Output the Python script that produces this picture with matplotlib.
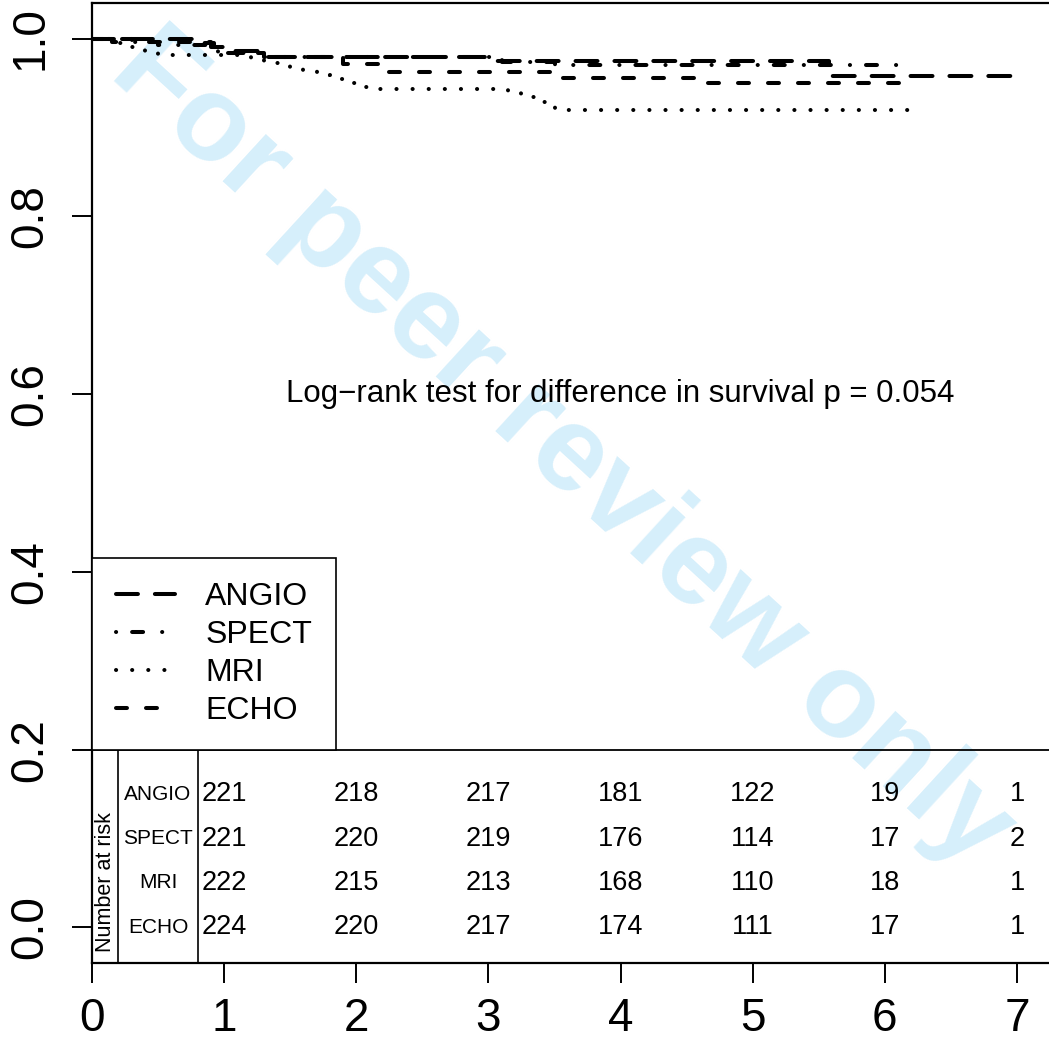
import matplotlib
matplotlib.use("Agg")
import matplotlib.pyplot as plt

plt.rcParams['font.family'] = ['Liberation Sans', 'DejaVu Sans']
plt.rcParams['lines.scale_dashes'] = False

# Kaplan-Meier step curves: event times, survival after each step, last follow-up
angio_t = [0, 0.85, 0.92, 1.0, 1.3, 3.05, 5.58]
angio_s = [1.0, 0.9955, 0.991, 0.986, 0.979, 0.975, 0.958]
angio_end = 7.0

spect_t = [0, 0.15, 0.5, 0.95, 1.3, 3.1, 3.5]
spect_s = [1.0, 0.996, 0.993, 0.984, 0.979, 0.974, 0.970]
spect_end = 6.15

mri_t = [0, 0.15, 0.25, 0.4, 0.5, 1.2, 1.3, 1.5, 1.6, 1.7, 1.8, 1.9, 2.0, 2.1,
         3.15, 3.25, 3.35, 3.45, 3.5]
mri_s = [1.0, 0.9955, 0.991, 0.9865, 0.982, 0.977, 0.973, 0.968, 0.964, 0.959,
         0.955, 0.950, 0.946, 0.943, 0.939, 0.934, 0.929, 0.925, 0.920]
mri_end = 6.23

echo_t = [0, 0.3, 0.9, 1.0, 1.3, 1.9, 2.2, 3.5, 4.65]
echo_s = [1.0, 0.996, 0.991, 0.984, 0.979, 0.971, 0.962, 0.956, 0.950]
echo_end = 6.25

groups = ['ANGIO', 'SPECT', 'MRI', 'ECHO']
risk_times = [1, 2, 3, 4, 5, 6, 7]
angio_risk = [221, 218, 217, 181, 122, 19, 1]
spect_risk = [221, 220, 219, 176, 114, 17, 2]
mri_risk = [222, 215, 213, 168, 110, 18, 1]
echo_risk = [224, 220, 217, 174, 111, 17, 1]
risk_rows = [0.15, 0.10, 0.05, 0.0]

pval_text = 'Log\u2212rank test for difference in survival p = 0.054'

fig = plt.figure(figsize=(10.49, 10.41), dpi=100)
ax = fig.add_axes([92 / 1049, 78 / 1041, 960.7 / 1049, 960 / 1041])
ax.patch.set_visible(False)

# R-style line types (lengths in points)
styles = {
    'ANGIO': (0, (15.8, 12.2)),
    'SPECT': (0, (0.1, 11.5, 7.9, 13.7)),
    'MRI': (0, (0.1, 11.5)),
    'ECHO': (0, (7.9, 13.7)),
}
curves = {
    'ANGIO': (angio_t, angio_s, angio_end),
    'SPECT': (spect_t, spect_s, spect_end),
    'MRI': (mri_t, mri_s, mri_end),
    'ECHO': (echo_t, echo_s, echo_end),
}
for g in groups:
    t, s, end = curves[g]
    ax.step(t + [end], s + [s[-1]], where='post', color='black', lw=2.9,
            linestyle=styles[g], dash_capstyle='round', solid_capstyle='round',
            label=g, zorder=3)

ax.set_xlim(0, 7.27)
ax.set_ylim(-0.04, 1.04)
ax.set_xticks(range(0, 8))
ax.set_yticks([0.0, 0.2, 0.4, 0.6, 0.8, 1.0])
ax.set_yticklabels(['0.0', '0.2', '0.4', '0.6', '0.8', '1.0'])
ax.tick_params(axis='both', length=14.4, width=1.4, labelsize=33, pad=10)
ax.tick_params(axis='y', pad=14)
for lab in ax.get_yticklabels():
    lab.set_rotation(90)
    lab.set_va('center')
for sp in ax.spines.values():
    sp.set_linewidth(1.6)

ax.text(4.0, 0.6, pval_text, ha='center', va='center', fontsize=22.5, zorder=4)

# number-at-risk table inside the lower part of the axes
ax.axhline(0.2, color='black', lw=1.3, zorder=2)
ax.plot([0.2, 0.2], [-0.04, 0.2], color='black', lw=1.2, zorder=2)
ax.plot([0.8, 0.8], [-0.04, 0.2], color='black', lw=1.2, zorder=2)
ax.text(0.1, 0.051, 'Number at risk', rotation=90, ha='center', va='center',
        fontsize=15.5, zorder=4)
all_risk = [angio_risk, spect_risk, mri_risk, echo_risk]
for g, row_y, counts in zip(groups, risk_rows, all_risk):
    ax.text(0.5, row_y, g, ha='center', va='center', fontsize=15, zorder=4)
    for t, n in zip(risk_times, counts):
        ax.text(t, row_y, str(n), ha='center', va='center', fontsize=19.5, zorder=4)

leg = ax.legend(loc='lower left', bbox_to_anchor=(0, 0.2),
                bbox_transform=ax.transData, fontsize=23, frameon=True,
                fancybox=False, edgecolor='black', framealpha=1,
                handlelength=1.85, handletextpad=0.94, labelspacing=0.25,
                borderpad=0.75, borderaxespad=0)
leg.get_frame().set_linewidth(1.2)
leg.set_zorder(5)

fig.text(0.536, 0.568, 'For peer review only', rotation=-42.5, ha='center',
         va='center', fontsize=87, fontweight='bold', color='#d6effb', zorder=-1)

fig.savefig('out.png', dpi=100)
